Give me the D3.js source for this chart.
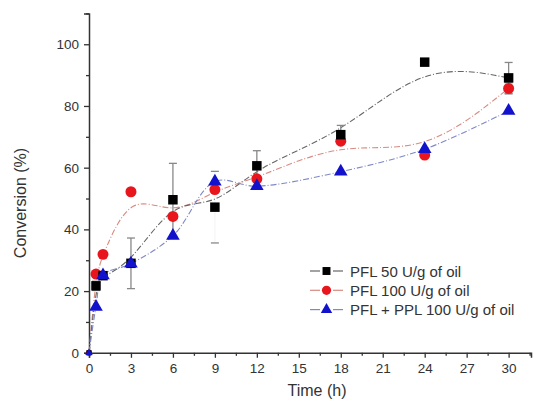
<!DOCTYPE html>
<html>
<head>
<meta charset="utf-8">
<script src="https://cdn.jsdelivr.net/npm/d3@7"></script>
<style>
  body { margin: 0; background: #fff; }
  svg text { font-family: "Liberation Sans", Arial, sans-serif; fill: #333; }
</style>
</head>
<body>
<div id="chart"></div>
<script>
// ── data ─────────────────────────────────────────────────────────────────────
const times     = [0, 0.5, 1, 3, 6, 9, 12, 18, 24, 30];
const pfl50     = [0, 21.7, 25, 29, 49.6, 47.2, 60.6, 70.7, 94.2, 89.1];
const pfl50Err  = [0, 1.5, 0, 8.2, 11.8, 11.6, 4.9, 3, 0, 5];
const pfl100    = [0, 25.5, 31.9, 52.2, 44.2, 52.9, 56.4, 68.6, 64.1, 85.7];
const pfl100Err = [0, 0, 0, 0, 0, 0, 0, 0, 0, 1.8];
const pflPpl    = [0, 14.9, 25.1, 28.9, 37.9, 55.5, 54, 58.7, 66, 78.4];
const xTicks    = [0, 3, 6, 9, 12, 15, 18, 21, 24, 27, 30];
const yTicks    = [0, 20, 40, 60, 80, 100];
const legendLabels = ['PFL 50 U/g of oil', 'PFL 100 U/g of oil', 'PFL + PPL 100 U/g of oil'];

const W = 537, H = 401;
const x = d3.scaleLinear().domain([0, 31.6]).range([89, 531]);
const y = d3.scaleLinear().domain([0, 110]).range([352.8, 13.4]);

const svg = d3.select('#chart').append('svg')
  .attr('width', W).attr('height', H);

const axisColor = '#333';

// ── axes ─────────────────────────────────────────────────────────────────────
svg.append('g')
  .attr('transform', `translate(0,${y(0)})`)
  .call(d3.axisBottom(x).tickValues(d3.range(1.5, 31.6, 3)).tickSize(3).tickFormat(''))
  .call(g => g.select('.domain').remove())
  .call(g => g.selectAll('line').attr('stroke', axisColor).attr('stroke-width', 1.3));

svg.append('g')
  .attr('transform', `translate(0,${y(0)})`)
  .call(d3.axisBottom(x).tickValues(xTicks).tickSize(5).tickPadding(6))
  .call(g => g.select('.domain').attr('stroke', axisColor).attr('stroke-width', 1.5))
  .call(g => g.selectAll('line').attr('stroke', axisColor).attr('stroke-width', 1.3))
  .call(g => g.selectAll('text').attr('font-size', 13.5).style('fill', '#333'));

svg.append('g')
  .attr('transform', `translate(${x(0)},0)`)
  .call(d3.axisLeft(y).tickValues(d3.range(10, 111, 20)).tickSize(3).tickFormat(''))
  .call(g => g.select('.domain').remove())
  .call(g => g.selectAll('line').attr('stroke', axisColor).attr('stroke-width', 1.3));

svg.append('g')
  .attr('transform', `translate(${x(0)},0)`)
  .call(d3.axisLeft(y).tickValues(yTicks).tickSize(5).tickPadding(5).tickSizeOuter(5))
  .call(g => g.select('.domain').attr('stroke', axisColor).attr('stroke-width', 1.5))
  .call(g => g.selectAll('line').attr('stroke', axisColor).attr('stroke-width', 1.3))
  .call(g => g.selectAll('text').attr('font-size', 13.5).style('fill', '#333'));

// axis titles
svg.append('text')
  .attr('x', 317).attr('y', 396)
  .attr('text-anchor', 'middle')
  .attr('font-size', 16)
  .text('Time (h)');

svg.append('text')
  .attr('transform', 'translate(26,203) rotate(-90)')
  .attr('text-anchor', 'middle')
  .attr('font-size', 16)
  .text('Conversion (%)');

// ── series ───────────────────────────────────────────────────────────────────
const series = [
  { vals: pfl100, err: pfl100Err, line: '#d88a80', fill: '#e8161c', shape: d3.symbolCircle,   size: 95,  curve: d3.curveBasis },
  { vals: pfl50,  err: pfl50Err,  line: '#666',    fill: '#000',    shape: d3.symbolSquare,   size: 90,  curve: d3.curveBasis },
  { vals: pflPpl, err: null,      line: '#7f88c8', fill: '#1212cc', shape: d3.symbolTriangle, size: 80,  curve: d3.curveCatmullRom.alpha(0.5) }
];

// curves first, markers on top
series.forEach(s => {
  const pts = times.map((t, i) => [t, s.vals[i]]);
  svg.append('path')
    .datum(pts)
    .attr('fill', 'none')
    .attr('stroke', s.line)
    .attr('stroke-width', 1.1)
    .attr('stroke-dasharray', '6,2,1,2')
    .attr('d', d3.line().x(d => x(d[0])).y(d => y(d[1])).curve(s.curve));
});

series.forEach(s => {
  if (s.err) {
    const eb = times.map((t, i) => ({ t, v: s.vals[i], e: s.err[i] })).filter(d => d.e > 0);
    const g = svg.append('g').attr('stroke', '#888').attr('stroke-width', 1.3);
    g.selectAll('.eb').data(eb).enter().append('line')
      .attr('x1', d => x(d.t)).attr('x2', d => x(d.t))
      .attr('y1', d => y(d.v - d.e)).attr('y2', d => y(d.v + d.e))
      .attr('stroke-opacity', d => d.t === 9 ? 0.08 : 1);
    g.selectAll('.capT').data(eb).enter().append('line')
      .attr('x1', d => x(d.t) - 4).attr('x2', d => x(d.t) + 4)
      .attr('y1', d => y(d.v + d.e)).attr('y2', d => y(d.v + d.e));
    g.selectAll('.capB').data(eb).enter().append('line')
      .attr('x1', d => x(d.t) - 4).attr('x2', d => x(d.t) + 4)
      .attr('y1', d => y(d.v - d.e)).attr('y2', d => y(d.v - d.e));
  }
});

series.forEach(s => {
  svg.append('g').selectAll('path')
    .data(times.map((t, i) => [t, s.vals[i]]))
    .enter().append('path')
      .attr('transform', d => `translate(${x(d[0])},${y(d[1])})`)
      .attr('d', d3.symbol().type(s.shape).size(d => d[0] === 0 ? s.size * 0.3 : s.size))
      .attr('fill', s.fill);
});

// ── legend ───────────────────────────────────────────────────────────────────
const legendOrder = [series[1], series[0], series[2]];
const lg = svg.append('g').attr('transform', 'translate(310,271)');
legendOrder.forEach((s, i) => {
  const row = lg.append('g').attr('transform', `translate(0,${i * 19.3})`);
  row.append('line').attr('x1', 0).attr('x2', 10).attr('stroke', s.line).attr('stroke-width', 1.2);
  row.append('line').attr('x1', 23).attr('x2', 33).attr('stroke', s.line).attr('stroke-width', 1.2);
  row.append('path')
    .attr('transform', 'translate(16.5,0)')
    .attr('d', d3.symbol().type(s.shape).size(s.size * 0.7))
    .attr('fill', s.fill);
  row.append('text')
    .attr('x', 40).attr('y', 5.5)
    .attr('font-size', 15)
    .text(legendLabels[i]);
});
</script>
</body>
</html>
